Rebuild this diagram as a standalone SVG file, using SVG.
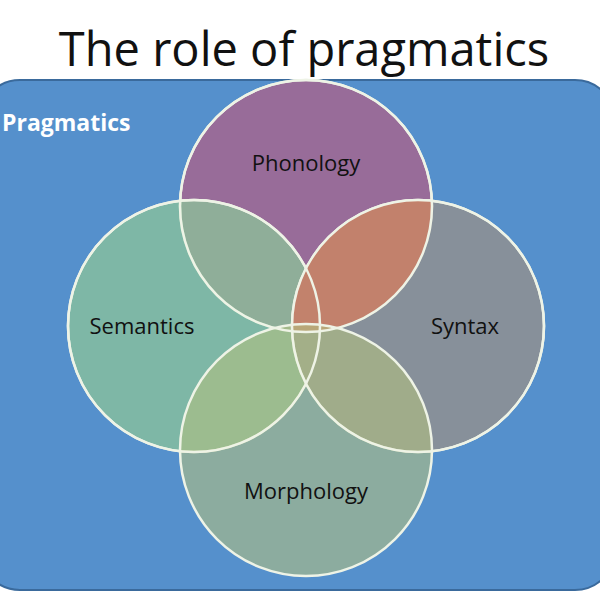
<svg xmlns="http://www.w3.org/2000/svg" width="600" height="600" viewBox="0 0 600 600">
<style>
.c{stroke:#eef3e6;stroke-width:2.5}
.t{font-family:"Open Sans","Liberation Sans",sans-serif;font-size:22px;fill:#111;text-anchor:middle}
</style>
<defs><clipPath id="ph"><circle cx="306" cy="206" r="126"/></clipPath></defs>
<rect width="600" height="600" fill="#fff"/>
<text x="304" y="66" font-family="'Open Sans','Liberation Sans',sans-serif" font-size="47" text-anchor="middle" fill="#111">The role of pragmatics</text>
<g id="pragmatics">
<rect x="-20" y="80" width="635" height="510" rx="40" fill="#5590cc" stroke="#3a6a9c" stroke-width="2"/>
<text x="2" y="131" font-family="'Open Sans','Liberation Sans',sans-serif" font-size="23" font-weight="bold" fill="#fff">Pragmatics</text>
</g>
<g id="phonology"><circle class="c" cx="306" cy="206" r="126" fill="#a5668f" fill-opacity="0.85"/></g>
<g id="semantics"><circle class="c" cx="194" cy="326" r="126" fill="#8cc49a" fill-opacity="0.75"/></g>
<g id="syntax"><circle class="c" cx="418" cy="326" r="126" fill="#909090" fill-opacity="0.85"/>
<circle cx="418" cy="326" r="126" fill="#c88068" fill-opacity="0.9" clip-path="url(#ph)"/></g>
<g id="morphology"><circle class="c" cx="306" cy="450" r="126" fill="#b0c080" fill-opacity="0.6"/></g>
<g fill="none" stroke="#eef3e6" stroke-width="2.5">
<circle cx="306" cy="206" r="126"/><circle cx="194" cy="326" r="126"/><circle cx="418" cy="326" r="126"/>
</g>
<text class="t" x="306" y="171">Phonology</text>
<text class="t" x="142" y="334">Semantics</text>
<text class="t" x="465" y="334">Syntax</text>
<text class="t" x="306" y="499">Morphology</text>
</svg>
